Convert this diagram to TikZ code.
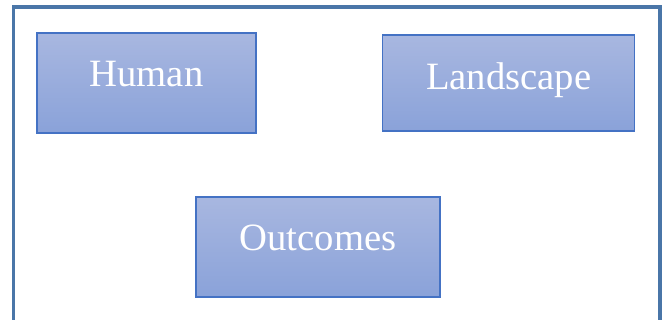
\documentclass[tikz,border=0pt]{standalone}
\usepackage{fontspec}
\setmainfont{Liberation Serif}
\usepackage{tikz}
\usetikzlibrary{positioning}
\definecolor{framec}{HTML}{4A76A8}
\definecolor{boxline}{HTML}{4472C4}
\definecolor{boxtop}{HTML}{A8B7E0}
\definecolor{boxbot}{HTML}{8AA2D9}

\begin{document}
\begin{tikzpicture}[x=1pt, y=1pt, node distance=94pt, every node/.style={font=\fontsize{29}{34}\selectfont}]
\tikzset{box/.style={draw=boxline, line width=1.1pt, top color=boxtop, bottom color=boxbot, text=white, align=center, minimum height=75pt, text height=20pt, text depth=14pt}}
\useasboundingbox (0,0) rectangle (501,240);
\clip (0,0) rectangle (501,240);
\draw[framec, line width=2.3pt] (10.1,-20) -- (10.1,234.75) -- (495,234.75) -- (495,-20);
\node[box, minimum width=164pt] (human) at (109.9,177.75) {Human};
\node[box, minimum width=189pt, minimum height=72pt, text depth=10pt, right=of human] (landscape) {Landscape};
\node[box, minimum width=183pt] (outcomes) at (238.5,54.75) {Outcomes};
\end{tikzpicture}
\end{document}
